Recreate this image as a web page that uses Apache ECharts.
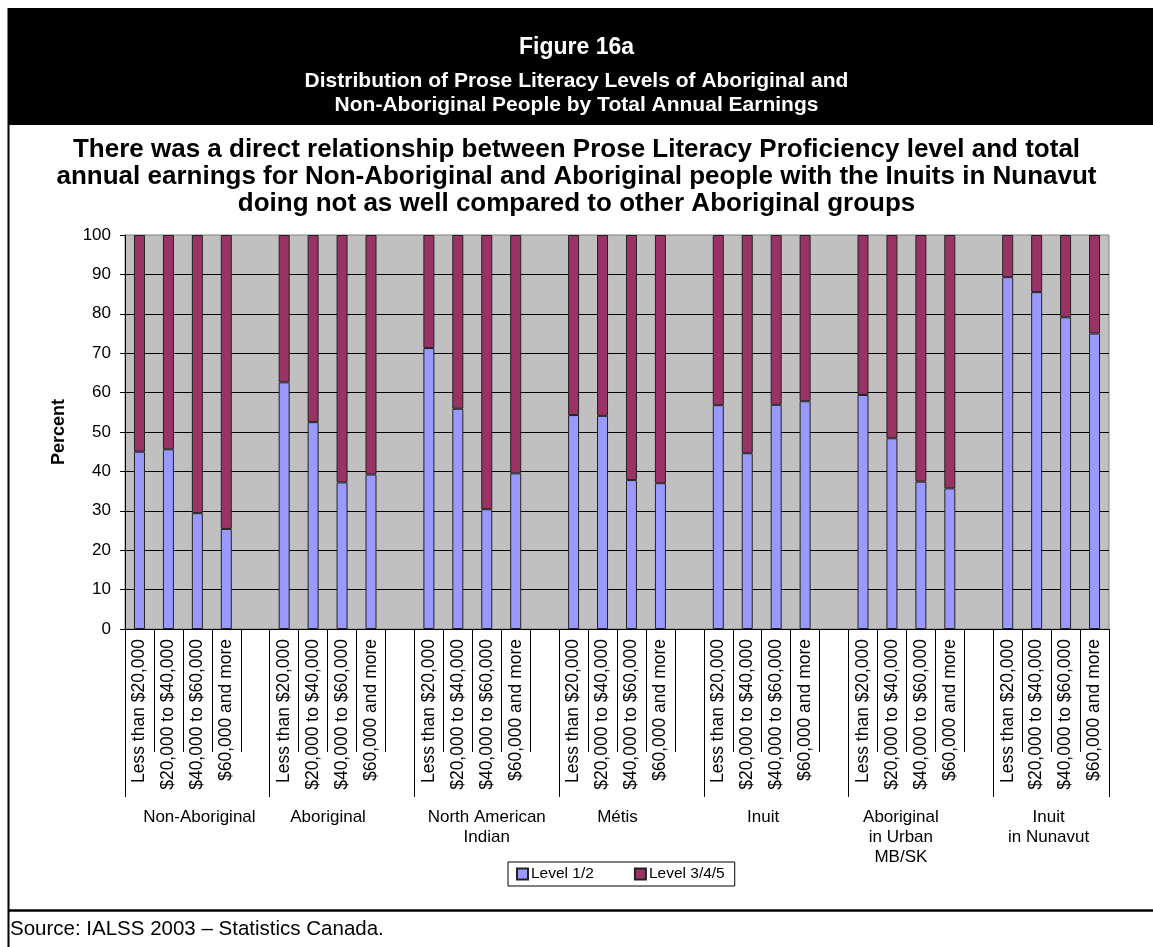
<!DOCTYPE html>
<html>
<head>
<meta charset="utf-8">
<script src="https://cdn.jsdelivr.net/npm/echarts@6/dist/echarts.min.js"></script>
<style>
  html, body { margin: 0; padding: 0; background: #fff; }
  #chart { width: 1153px; height: 947px; }
</style>
</head>
<body>
<div id="chart"></div>
<script>
// ---- data ----
const incomeLabels = ['Less than $20,000', '$20,000 to $40,000', '$40,000 to $60,000', '$60,000 and more'];
const groupNames = ['Non-Aboriginal', 'Aboriginal', 'North American\nIndian', 'Métis', 'Inuit', 'Aboriginal\nin Urban\nMB/SK', 'Inuit\nin Nunavut'];
const level12 = [
  [45.0, 45.6, 29.4, 25.4],
  [62.6, 52.5, 37.2, 39.2],
  [71.3, 55.9, 30.4, 39.5],
  [54.3, 54.1, 37.8, 37.0],
  [56.8, 44.6, 56.9, 57.8],
  [59.4, 48.4, 37.4, 35.7],
  [89.3, 85.5, 79.1, 75.0]
];
const level345 = [
  [55.0, 54.4, 70.6, 74.6],
  [37.4, 47.5, 62.8, 60.8],
  [28.7, 44.1, 69.6, 60.5],
  [45.7, 45.9, 62.2, 63.0],
  [43.2, 55.4, 43.1, 42.2],
  [40.6, 51.6, 62.6, 64.3],
  [10.7, 14.5, 20.9, 25.0]
];
const yTicks = { min: 0, max: 100, interval: 10 };
const seriesNames = ['Level 1/2', 'Level 3/4/5'];
// horizontal nudge (px) of each group caption relative to the middle slot of its group
const groupLabelShift = [2, -14, 0, -14, -13, -20, -17];

// ---- build flat category table (one empty slot between groups) ----
const categories = [];
const catGroup = [];
const flat12 = [];
const flat345 = [];
groupNames.forEach((g, gi) => {
  incomeLabels.forEach((lab, i) => {
    categories.push(lab);
    catGroup.push(gi);
    flat12.push(level12[gi][i]);
    flat345.push(level345[gi][i]);
  });
  if (gi < groupNames.length - 1) {
    categories.push('');
    catGroup.push(gi);
    flat12.push('-');
    flat345.push('-');
  }
});
// group-caption axis: caption only on the middle slot of each group
const groupCats = categories.map((c, idx) => {
  if (idx % 5 !== 2) return { value: ' ' + idx };
  const s = groupLabelShift[catGroup[idx]];
  const pad = s >= 0 ? [0, 0, 0, 2 * s] : [0, -2 * s, 0, 0];
  return { value: groupNames[catGroup[idx]], textStyle: { padding: pad } };
});

const FONT = 'Liberation Sans, Arial, sans-serif';
const chart = echarts.init(document.getElementById('chart'), null, { renderer: 'canvas' });

const option = {
  backgroundColor: '#ffffff',
  animation: false,
  textStyle: { fontFamily: FONT, color: '#000' },
  graphic: [
    { type: 'rect', z: 0, shape: { x: 8, y: 8, width: 1145, height: 117 }, style: { fill: '#000' } },
    { type: 'line', z: 0, shape: { x1: 8.5, y1: 8, x2: 8.5, y2: 947 }, style: { stroke: '#000', lineWidth: 2 } },
    { type: 'line', z: 0, shape: { x1: 8, y1: 910.5, x2: 1153, y2: 910.5 }, style: { stroke: '#000', lineWidth: 2.5 } },
    { type: 'text', z: 5, left: 10, top: 919, style: { text: 'Source: IALSS 2003 – Statistics Canada.', fontSize: 20.5, fontFamily: FONT, fill: '#000' } }
  ],
  title: [
    { text: 'Figure 16a', left: 'center', top: 31,
      textStyle: { color: '#fff', fontSize: 23, fontWeight: 'bold', fontFamily: FONT } },
    { text: 'Distribution of Prose Literacy Levels of Aboriginal and\nNon-Aboriginal People by Total Annual Earnings', left: 'center', top: 64,
      textStyle: { color: '#fff', fontSize: 21, lineHeight: 24, fontWeight: 'bold', fontFamily: FONT, align: 'center' } },
    { text: 'There was a direct relationship between Prose Literacy Proficiency level and total\nannual earnings for Non-Aboriginal and Aboriginal people with the Inuits in Nunavut\ndoing not as well compared to other Aboriginal groups', left: 'center', top: 131,
      textStyle: { color: '#000', fontSize: 26, lineHeight: 27, fontWeight: 'bold', fontFamily: FONT, align: 'center' } }
  ],
  legend: {
    left: 508, top: 862,
    orient: 'horizontal',
    data: seriesNames,
    itemWidth: 11, itemHeight: 11, itemGap: 40,
    borderColor: '#000', borderWidth: 1, padding: [4, 10, 4, 8],
    backgroundColor: '#fff',
    textStyle: { fontSize: 15.5, fontFamily: FONT, color: '#000', padding: [0, 0, 0, -2] },
    icon: 'rect'
  },
  grid: {
    left: 125, right: 44, top: 235, bottom: 318,
    show: true, backgroundColor: '#C0C0C0', borderColor: '#808080', borderWidth: 1,
    containLabel: false
  },
  xAxis: [
    {
      type: 'category', position: 'bottom', data: categories,
      axisLine: { show: true, onZero: false, lineStyle: { color: '#000', width: 1 } },
      axisTick: {
        show: true, length: 123, lineStyle: { color: '#000', width: 1 },
        interval: (idx) => idx % 5 !== 0
      },
      axisLabel: { interval: 0, rotate: 90, margin: 10, fontSize: 17.5, fontFamily: FONT, color: '#000' },
      splitLine: { show: false }
    },
    {
      type: 'category', position: 'bottom', data: groupCats,
      axisLine: { show: false, onZero: false },
      axisTick: {
        show: true, length: 168, lineStyle: { color: '#000', width: 1 },
        interval: (idx) => idx % 5 === 0
      },
      axisLabel: {
        interval: 0, margin: 178, fontSize: 17, lineHeight: 20, fontFamily: FONT, color: '#000',
        verticalAlign: 'top',
        formatter: (v, idx) => (idx % 5 === 2 ? v : '')
      },
      splitLine: { show: false }
    }
  ],
  yAxis: {
    type: 'value', min: yTicks.min, max: yTicks.max, interval: yTicks.interval,
    name: 'Percent', nameLocation: 'middle', nameRotate: 90, nameGap: 57,
    nameTextStyle: { fontSize: 18, fontWeight: 'bold', fontFamily: FONT, color: '#000' },
    axisLine: { show: true, lineStyle: { color: '#000', width: 1 } },
    axisTick: { show: true, inside: false, length: 5, lineStyle: { color: '#000' } },
    axisLabel: { fontSize: 17, margin: 14, fontFamily: FONT, color: '#000' },
    splitLine: { show: true, showMaxLine: false, lineStyle: { color: '#000', width: 1 } }
  },
  series: [
    {
      name: seriesNames[0], type: 'bar', stack: 'total', xAxisIndex: 0, barWidth: 11,
      data: flat12,
      itemStyle: { color: '#9999FF', borderColor: '#222', borderWidth: 1 }
    },
    {
      name: seriesNames[1], type: 'bar', stack: 'total', xAxisIndex: 0, barWidth: 11,
      data: flat345,
      itemStyle: { color: '#993366', borderColor: '#222', borderWidth: 1 }
    }
  ]
};
chart.setOption(option);
</script>
</body>
</html>
